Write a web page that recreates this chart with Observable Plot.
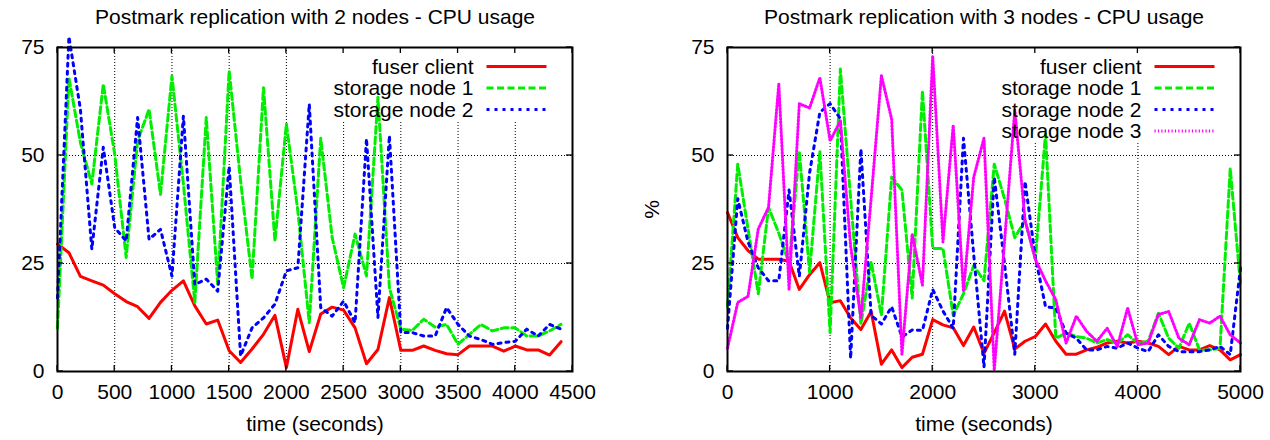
<!DOCTYPE html>
<html>
<head>
<meta charset="utf-8">
<script src="https://cdn.jsdelivr.net/npm/d3@7"></script>
<script src="https://cdn.jsdelivr.net/npm/@observablehq/plot@0.6"></script>
<style>
  body { margin: 0; background: #fff; }
  #wrap { display: flex; width: 1270px; height: 440px; }
</style>
</head>
<body>
<div id="wrap"></div>
<script>
// ---- Postmark run, 2 nodes (sampled every 100 s) ----
const timeTwo = [0, 100, 200, 300, 400, 500, 600, 700, 800, 900, 1000, 1100, 1200, 1300, 1400, 1500, 1600, 1700, 1800, 1900, 2000, 2100, 2200, 2300, 2400, 2500, 2600, 2700, 2800, 2900, 3000, 3100, 3200, 3300, 3400, 3500, 3600, 3700, 3800, 3900, 4000, 4100, 4200, 4300, 4400];
const clientTwo = [29.5, 27.5, 22, 21, 20, 18, 16.2, 15, 12.3, 16, 18.8, 21, 15.2, 11, 11.9, 4.8, 2.1, 5.2, 8.6, 13, 0.9, 14.4, 4.6, 13.3, 14.9, 14.2, 10.1, 1.8, 5.1, 17.1, 4.9, 4.9, 5.9, 4.9, 4.1, 3.9, 5.9, 5.9, 5.9, 4.7, 5.9, 5, 5, 3.8, 6.9];
const node1Two = [10, 68, 53, 43.4, 66.5, 50.3, 26.4, 53.4, 60.7, 41, 68.4, 43.4, 16, 58.8, 20.2, 69.6, 44.1, 21.4, 65.7, 30.2, 57.3, 37.2, 11.3, 54, 31, 19.4, 31.8, 22.1, 63.5, 19.4, 9.8, 9.5, 12.1, 10.3, 10.9, 6.3, 8.6, 10.9, 9.4, 10.1, 10.1, 8.2, 8.2, 9.4, 10.9];
const node2Two = [17, 77.5, 60.7, 28.3, 51.9, 33.3, 30.2, 58.8, 30.6, 32.9, 22.1, 59.1, 20.1, 21.4, 18.6, 47.5, 3.6, 10.1, 12.4, 15.6, 23.3, 24, 61.9, 14.8, 12.8, 16.3, 11.3, 53.9, 12.5, 54.6, 9, 9, 8.2, 8.2, 14.8, 10.9, 8.2, 7.4, 6.3, 6.7, 7, 9.8, 8.2, 10.9, 9.8];

// ---- Postmark run, 3 nodes (sampled every 100 s) ----
const timeThree = [0, 100, 200, 300, 400, 500, 600, 700, 800, 900, 1000, 1100, 1200, 1300, 1400, 1500, 1600, 1700, 1800, 1900, 2000, 2100, 2200, 2300, 2400, 2500, 2600, 2700, 2800, 2900, 3000, 3100, 3200, 3300, 3400, 3500, 3600, 3700, 3800, 3900, 4000, 4100, 4200, 4300, 4400, 4500, 4600, 4700, 4800, 4900, 5000];
const clientThree = [36.8, 31, 28, 26, 26, 26, 25.5, 19, 22.4, 25.2, 15.9, 16.4, 12.4, 9.7, 13.9, 1.7, 5, 0.9, 3.3, 4, 12, 10.8, 10.1, 6, 10.3, 4.2, 9, 14, 5.2, 7, 8.1, 11, 7, 4, 4, 5, 5.6, 6.6, 7, 6.6, 7, 6.6, 5.8, 3.9, 5.8, 5, 5, 6, 5, 2.7, 3.9];
const node1Three = [15, 48, 33, 18, 38, 32, 25, 51, 23, 51, 9, 70, 40, 11, 25.4, 13, 45, 42, 17, 65, 28.5, 28.5, 13, 18, 24.5, 21, 48, 40, 31, 35, 26, 55, 7.7, 8.9, 8.1, 7.7, 6.6, 7.4, 6.6, 8.5, 6.6, 7, 13.5, 7.7, 5.4, 11.2, 5, 5, 5.4, 47, 20];
const node2Three = [10, 40, 30, 24, 21, 21, 42, 22, 46, 60, 62, 58.5, 3, 51.5, 13, 11, 15, 8, 9.6, 9.5, 19, 14, 10, 54, 27, 1, 45, 25, 4, 44, 26.5, 15, 14.7, 8.9, 7.7, 5, 5, 5.8, 5.4, 6.6, 5.4, 4.6, 8.5, 5.8, 4.6, 4.6, 4.6, 5, 5.8, 3.9, 24];
const node3Three = [5.4, 16, 17.4, 33, 38, 66.6, 19, 62, 61, 68, 53.4, 58, 29, 12.4, 40, 68.5, 58.4, 4, 31.8, 20, 73, 30, 57, 18.5, 45, 54, 0.3, 30, 60.5, 35, 26, 21, 16.6, 6.6, 12.8, 9.3, 7, 10, 5.8, 14.7, 6.2, 6.6, 13.2, 13.9, 7.7, 6.2, 12, 11.2, 12.8, 8.5, 6.6];

// ---- axis ticks ----
const xTicksTwo = [0, 500, 1000, 1500, 2000, 2500, 3000, 3500, 4000, 4500];
const xTicksThree = [0, 1000, 2000, 3000, 4000, 5000];
const yTicks = [0, 25, 50, 75];

// line style per series (gnuplot-like)
const lineStyle = {
  "fuser client":   {stroke: "#ff0000", dash: null},
  "storage node 1": {stroke: "#00ee00", dash: "7,3.5"},
  "storage node 2": {stroke: "#0000ff", dash: "3,5"},
  "storage node 3": {stroke: "#ff00ff", dash: "1.2,2.2"}
};

const FONT = "'Liberation Sans', Arial, Helvetica, sans-serif";

function panel({title, times, series, xMax, xTicks, yLabel, marginLeft, marginRight}) {
  const names = series.map(s => s.name);

  // opaque key background (hides the grid under the key)
  const keyBox = (index, scales, values, dim) => {
    const R = dim.width - dim.marginRight, T = dim.marginTop;
    const bottom = T + 19.5 + 21.5 * (names.length - 1) + 11;
    return d3.create("svg:rect")
      .attr("x", R - 242).attr("y", T + 1)
      .attr("width", 224).attr("height", bottom - T - 1)
      .attr("fill", "white").node();
  };

  // key entries: label right-aligned, line sample to its right
  const keyEntries = (index, scales, values, dim) => {
    const R = dim.width - dim.marginRight, T = dim.marginTop;
    const g = d3.create("svg:g");
    names.forEach((n, i) => {
      const y = T + 19.5 + 21.5 * i;
      g.append("text")
        .attr("x", R - 98.5).attr("y", y).attr("dy", "0.35em")
        .attr("text-anchor", "end").attr("fill", "black").text(n);
      const st = lineStyle[n];
      g.append("line")
        .attr("x1", R - 85.5).attr("x2", R - 25.5)
        .attr("y1", y).attr("y2", y)
        .attr("stroke", st.stroke).attr("stroke-width", 3)
        .attr("stroke-dasharray", st.dash);
    });
    return g.node();
  };

  // gnuplot-style inward ticks on all four sides
  const innerTicks = (index, scales, values, dim) => {
    const L = dim.marginLeft, R = dim.width - dim.marginRight;
    const T = dim.marginTop, B = dim.height - dim.marginBottom;
    const g = d3.create("svg:g").attr("stroke", "black").attr("stroke-width", 1.3);
    for (const t of xTicks) {
      const px = scales.x(t);
      g.append("line").attr("x1", px).attr("x2", px).attr("y1", B).attr("y2", B - 6);
      g.append("line").attr("x1", px).attr("x2", px).attr("y1", T).attr("y2", T + 6);
    }
    for (const v of yTicks) {
      const py = scales.y(v);
      g.append("line").attr("x1", L).attr("x2", L + 6).attr("y1", py).attr("y2", py);
      g.append("line").attr("x1", R).attr("x2", R - 6).attr("y1", py).attr("y2", py);
    }
    return g.node();
  };

  const lines = series.map(s =>
    Plot.line(times.map((t, i) => ({t, v: s.values[i]})), {
      x: "t", y: "v",
      stroke: lineStyle[s.name].stroke,
      strokeWidth: 3,
      strokeDasharray: lineStyle[s.name].dash,
      strokeLinejoin: "round"
    })
  );

  const marks = [
    Plot.ruleX(xTicks.slice(1, -1), {stroke: "black", strokeWidth: 1, strokeDasharray: "1,2"}),
    Plot.ruleY(yTicks.slice(1, -1), {stroke: "black", strokeWidth: 1, strokeDasharray: "1,2"}),
    keyBox,
    ...lines,
    Plot.frame({stroke: "black", strokeWidth: 2}),
    innerTicks,
    keyEntries,
    Plot.text([title], {frameAnchor: "top", lineAnchor: "middle", dy: -30, fill: "black"}),
    Plot.text(["time (seconds)"], {frameAnchor: "bottom", lineAnchor: "middle", dy: 53, fill: "black"})
  ];
  if (yLabel) {
    marks.push(Plot.text([yLabel], {frameAnchor: "left", textAnchor: "middle", lineAnchor: "middle", dx: -75, rotate: -90, fill: "black"}));
  }

  return Plot.plot({
    width: 635,
    height: 440,
    marginTop: 47,
    marginBottom: 69,
    marginLeft,
    marginRight,
    style: {fontFamily: FONT, fontSize: "21px", color: "black", background: "white", overflow: "visible"},
    x: {domain: [0, xMax], ticks: xTicks, tickFormat: "d", tickSize: 0, tickPadding: 13, label: null},
    y: {domain: [0, 75], ticks: yTicks, tickFormat: "d", tickSize: 0, tickPadding: 13, label: null},
    marks
  });
}

const wrap = document.getElementById("wrap");

wrap.appendChild(panel({
  title: "Postmark replication with 2 nodes - CPU usage",
  times: timeTwo,
  series: [
    {name: "fuser client", values: clientTwo},
    {name: "storage node 1", values: node1Two},
    {name: "storage node 2", values: node2Two}
  ],
  xMax: 4500,
  xTicks: xTicksTwo,
  yLabel: null,
  marginLeft: 57,
  marginRight: 63
}));

wrap.appendChild(panel({
  title: "Postmark replication with 3 nodes - CPU usage",
  times: timeThree,
  series: [
    {name: "fuser client", values: clientThree},
    {name: "storage node 1", values: node1Three},
    {name: "storage node 2", values: node2Three},
    {name: "storage node 3", values: node3Three}
  ],
  xMax: 5000,
  xTicks: xTicksThree,
  yLabel: "%",
  marginLeft: 92,
  marginRight: 30
}));
</script>
</body>
</html>
